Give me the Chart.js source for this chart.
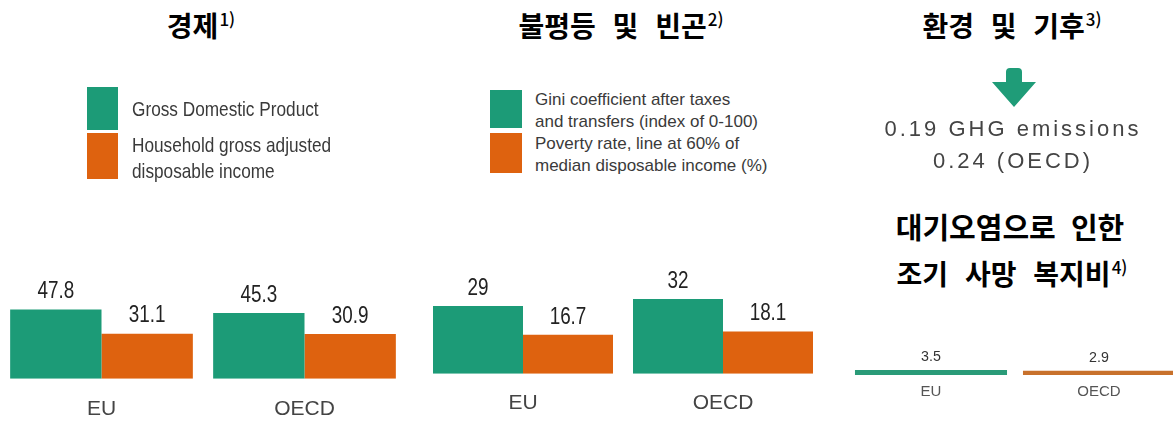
<!DOCTYPE html>
<html lang="ko">
<head>
<meta charset="utf-8">
<title>경제 · 불평등 및 빈곤 · 환경 및 기후</title>
<script src="https://cdn.jsdelivr.net/npm/chart.js@4.4.1/dist/chart.umd.min.js"></script>
<style>
    html, body { margin: 0; padding: 0; background: #fff; }
    #board { position: relative; width: 1173px; height: 423px; overflow: hidden; background: #fff; }
    #board canvas { position: absolute; }
    .title {
        position: absolute; text-align: center; white-space: nowrap; color: #000;
        font: 700 28px 'Noto Sans CJK KR', 'Noto Sans', sans-serif; line-height: 28px; word-spacing: 9px;
    }
    .title sup { font-size: 17px; font-weight: 500; vertical-align: 0; position: relative; top: -11px; margin-left: 1px; word-spacing: 0; }
    .legend { position: absolute; color: #3a3a3a; }
    .legend .box { position: absolute; left: 0; }
    .legend .txt { position: absolute; white-space: nowrap; transform-origin: 0 50%; }
    .ghg { position: absolute; text-align: center; white-space: nowrap; color: #444;
        font: 22px 'Liberation Sans', Arial, sans-serif; letter-spacing: 3px; filter: blur(0.4px); }
</style>
</head>
<body>
<div id="board">
    <div class="title" style="left:0;width:402px;top:11px;">경제<sup>1)</sup></div>
    <div class="title" style="left:421px;width:400px;top:11px;">불평등 및 빈곤<sup>2)</sup></div>
    <div class="title" style="left:812px;width:400px;top:11px;">환경 및 기후<sup>3)</sup></div>
    <div class="title" style="left:810px;width:400px;top:212px;font-size:29px;word-spacing:7px;">대기오염으로 인한</div>
    <div class="title" style="left:812px;width:400px;top:259px;">조기 사망 복지비<sup>4)</sup></div>

    <div id="legendEcon" class="legend"></div>
    <div id="legendIneq" class="legend"></div>

    <svg style="position:absolute;left:989px;top:64px;" width="50" height="46" viewBox="0 0 50 46">
        <path d="M17 8 Q17 4 21 4 L29 4 Q33 4 33 8 L33 18 L47 18 L25 43 L3 18 L17 18 Z" fill="#1f9c78"/>
    </svg>
    <div id="ghgLine" class="ghg" style="left:863px;width:300px;top:116px;"></div>
    <div id="ghgOecd" class="ghg" style="left:863px;width:300px;top:148px;"></div>

    <canvas id="econChart" width="406" height="190" style="left:0;top:250px;"></canvas>
    <canvas id="ineqChart" width="400" height="183" style="left:423px;top:250px;"></canvas>
    <canvas id="airChart" width="336" height="89" style="left:847px;top:320px;"></canvas>
</div>

<script>
    // Values
    const regions = ['EU', 'OECD'];
    const gdp = [47.8, 45.3];
    const householdIncome = [31.1, 30.9];
    const gini = [29, 32];
    const povertyRate = [16.7, 18.1];
    const airWelfareCost = [3.5, 2.9];
    const ghgEmissions = ['0.19', '0.24'];

    const econLabels = [['Gross Domestic Product'], ['Household gross adjusted', 'disposable income']];
    const ineqLabels = [['Gini coefficient after taxes', 'and transfers (index of 0-100)'],
                        ['Poverty rate, line at 60% of', 'median disposable income (%)']];

    const GREEN = '#1c9b77';
    const ORANGE = '#de620f';
    const SANS = "'Liberation Sans', Arial, sans-serif";

    // Draws each bar's value above it, squeezed a little horizontally
    const valueLabels = {
        id: 'valueLabels',
        afterDatasetsDraw(chart, args, opts) {
            const ctx = chart.ctx;
            chart.data.datasets.forEach((ds, i) => {
                chart.getDatasetMeta(i).data.forEach((bar, j) => {
                    ctx.save();
                    ctx.font = opts.font;
                    ctx.fillStyle = opts.color;
                    ctx.textAlign = 'center';
                    ctx.textBaseline = 'middle';
                    ctx.translate(bar.x, bar.y - opts.offset);
                    ctx.scale(opts.squeeze, 1);
                    ctx.fillText(String(ds.data[j]), 0, 0);
                    ctx.restore();
                });
            });
        }
    };

    function buildLegend(el, labels, cfg) {
        const colors = [GREEN, ORANGE];
        el.style.left = cfg.left + 'px';
        el.style.top = cfg.top + 'px';
        el.style.font = cfg.font;
        labels.forEach((lines, i) => {
            const box = document.createElement('div');
            box.className = 'box';
            box.style.cssText = `left:0;top:${cfg.boxTops[i]}px;width:${cfg.boxW}px;height:${cfg.boxH[i]}px;background:${colors[i]};`;
            el.appendChild(box);
            lines.forEach((line, k) => {
                const t = document.createElement('div');
                t.className = 'txt';
                t.textContent = line;
                t.style.left = cfg.textLeft + 'px';
                t.style.top = (cfg.textTops[i] + k * cfg.lineGap) + 'px';
                t.style.lineHeight = cfg.lineGap + 'px';
                t.style.transform = `scaleX(${cfg.squeeze})`;
                el.appendChild(t);
            });
        });
    }

    function groupChart(id, seriesA, seriesB, yMax, tickPad) {
        return new Chart(document.getElementById(id), {
            type: 'bar',
            data: {
                labels: regions,
                datasets: [
                    { data: seriesA, backgroundColor: GREEN },
                    { data: seriesB, backgroundColor: ORANGE }
                ]
            },
            options: {
                responsive: false,
                animation: false,
                events: [],
                layout: { padding: 0 },
                datasets: { bar: { categoryPercentage: 0.9, barPercentage: 1.0, borderWidth: 0 } },
                plugins: {
                    legend: { display: false },
                    tooltip: { enabled: false },
                    valueLabels: { font: `23px ${SANS}`, color: '#222', offset: 17.5, squeeze: 0.82 }
                },
                scales: {
                    x: {
                        grid: { display: false, drawTicks: false },
                        border: { display: false },
                        ticks: { color: '#444', font: { size: 21, family: SANS }, padding: tickPad, maxRotation: 0 }
                    },
                    y: { display: false, min: 0, max: yMax }
                }
            },
            plugins: [valueLabels]
        });
    }

    buildLegend(document.getElementById('legendEcon'), econLabels, {
        left: 87, top: 87, font: `21px ${SANS}`, boxW: 31, boxH: [43, 46], boxTops: [0, 46],
        textLeft: 45, textTops: [9, 45], lineGap: 26, squeeze: 0.82
    });
    buildLegend(document.getElementById('legendIneq'), ineqLabels, {
        left: 490, top: 90, font: `17px ${SANS}`, boxW: 32, boxH: [38, 40], boxTops: [0, 43],
        textLeft: 45, textTops: [-1, 43], lineGap: 22, squeeze: 1
    });

    document.getElementById('ghgLine').textContent = ghgEmissions[0] + ' GHG emissions';
    document.getElementById('ghgOecd').textContent = ghgEmissions[1] + ' (OECD)';

    groupChart('econChart', gdp, householdIncome, 88.7, 18);
    groupChart('ineqChart', gini, povertyRate, 53, 17);

    // Welfare cost of premature deaths: thin bars on a shared base
    new Chart(document.getElementById('airChart'), {
        type: 'bar',
        data: {
            labels: regions,
            datasets: [{ data: airWelfareCost, backgroundColor: ['#2a9b78', '#c8712c'] }]
        },
        options: {
            responsive: false,
            animation: false,
            events: [],
            layout: { padding: 0 },
            datasets: { bar: { categoryPercentage: 1.0, barPercentage: 0.905, borderWidth: 0 } },
            plugins: {
                legend: { display: false },
                tooltip: { enabled: false },
                valueLabels: { font: `15px ${SANS}`, color: '#333', offset: 13, squeeze: 0.95 }
            },
            scales: {
                x: {
                    grid: { display: false, drawTicks: false },
                    border: { display: false },
                    ticks: { color: '#555', font: { size: 15, family: SANS }, padding: 8, maxRotation: 0 }
                },
                y: { display: false, min: 0, max: 38 }
            }
        },
        plugins: [valueLabels]
    });
</script>
</body>
</html>
